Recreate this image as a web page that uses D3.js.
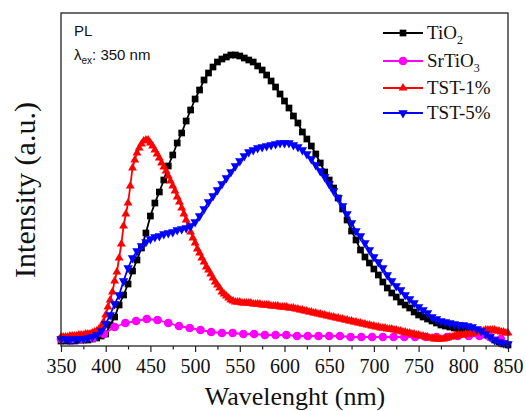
<!DOCTYPE html>
<html>
<head>
<meta charset="utf-8">
<script src="https://cdn.jsdelivr.net/npm/d3@7"></script>
<style>
  body { margin: 0; background: #fff; }
  svg { display: block; }
</style>
</head>
<body>
<div id="app"></div>
<script>
// PL spectra, intensity in arbitrary units

// TiO2 and TST-5% : one point every 5 nm from 350 to 850
var wlTiO2 = d3.range(350, 851, 5);
var tio2 = [
  5, 5, 5, 5, 6, 6, 6, 7, 8, 10,
  12, 21, 29, 41, 51, 62, 75, 86, 98, 113,
  130, 143, 154, 166, 180, 191, 203, 213, 225, 236,
  247, 256, 266, 273, 279, 284, 287, 289, 291, 291,
  290, 288, 286, 284, 280, 276, 271, 265, 259, 252,
  245, 238, 230, 223, 214, 207, 200, 192, 183, 174,
  166, 158, 148, 137, 126, 115, 106, 96, 89, 83,
  77, 71, 64, 58, 53, 49, 44, 41, 38, 34,
  31, 29, 27, 25, 23, 21, 20, 19, 18, 17,
  16, 16, 15, 14, 13, 11, 9, 6, 4, 2,
  1
];
var wlTST5 = d3.range(350, 851, 5);
var tst5 = [
  7, 7, 6, 7, 7, 7, 8, 9, 11, 15,
  22, 31, 42, 51, 65, 78, 88, 95, 100, 104,
  107, 109, 110, 112, 113, 114, 116, 117, 118, 120,
  124, 130, 137, 144, 150, 156, 162, 168, 174, 180,
  185, 190, 194, 196, 198, 199, 200, 201, 202, 203,
  203, 203, 201, 199, 196, 192, 187, 181, 175, 169,
  162, 155, 148, 140, 132, 123, 115, 110, 103, 96,
  89, 84, 78, 71, 65, 60, 56, 51, 47, 43,
  39, 36, 33, 29, 27, 25, 24, 23, 22, 21,
  21, 20, 19, 17, 15, 12, 9, 6, 4, 3,
  2
];

// TST-1% : one point every 2.5 nm
var wlTST1 = d3.range(0, 201).map(function (i) { return 350 + i * 2.5; });
var tst1 = [
  9, 9, 9, 9, 10, 10, 10, 10, 11, 11,
  11, 12, 12, 12, 13, 14, 15, 17, 19, 24,
  31, 39, 46, 54, 65, 74, 88, 102, 120, 132,
  143, 160, 178, 186, 193, 198, 202, 205, 206, 206,
  203, 200, 196, 192, 188, 183, 179, 175, 170, 165,
  160, 155, 149, 144, 138, 132, 126, 120, 114, 108,
  103, 97, 93, 88, 84, 79, 76, 72, 68, 64,
  61, 58, 54, 52, 50, 48, 46, 45, 44, 44,
  44, 43, 43, 43, 43, 43, 42, 42, 42, 42,
  41, 41, 41, 41, 40, 40, 40, 40, 39, 39,
  39, 39, 38, 38, 38, 37, 37, 36, 36, 35,
  35, 34, 34, 33, 33, 32, 32, 31, 31, 30,
  30, 29, 29, 28, 28, 27, 27, 26, 26, 25,
  25, 24, 24, 23, 23, 22, 22, 21, 21, 20,
  20, 19, 19, 18, 18, 18, 17, 17, 17, 16,
  16, 15, 15, 14, 14, 13, 13, 12, 12, 11,
  11, 10, 10, 9, 9, 8, 8, 7, 7, 7,
  7, 7, 8, 8, 9, 9, 10, 10, 11, 11,
  11, 12, 12, 12, 13, 13, 14, 14, 15, 15,
  16, 16, 16, 16, 16, 15, 15, 14, 14, 13,
  13
];

// SrTiO3 : one point every 12 nm
var wlSrTiO3 = d3.range(350, 843, 12);
var srtio3 = [
  7, 7, 7, 8, 12, 19, 23, 25, 27, 26,
  23, 20, 18, 16, 14, 13, 13, 12, 12, 11,
  11, 11, 10, 10, 10, 10, 10, 9, 9, 9,
  9, 9, 9, 9, 9, 9, 9, 10, 10, 10,
  9, 7
];

var xTicks = [350, 400, 450, 500, 550, 600, 650, 700, 750, 800, 850];
var xMinor = [375, 425, 475, 525, 575, 625, 675, 725, 775, 825];

var seriesNames = ['TiO', 'SrTiO', 'TST-1%', 'TST-5%'];
var seriesSubs = ['2', '3', '', ''];
var seriesColors = ['#000000', '#ff00ff', '#ff0000', '#0000ff'];

var serif = '"Liberation Serif", "Times New Roman", serif';

var width = 526,
  height = 411;
var plotLeft = 61, plotRight = 508, plotTop = 13, plotBottom = 346;

var svg = d3.select('#app')
  .append('svg')
  .attr('width', width)
  .attr('height', height);

var xScale = d3.scaleLinear().domain([350, 850]).range([plotLeft, plotRight]);
var yScale = d3.scaleLinear().domain([0, 333]).range([plotBottom, plotTop]);

// axes
var xAxis = d3.axisBottom(xScale).tickValues(xTicks).tickSize(6).tickPadding(7);
var xAxisMinor = d3.axisBottom(xScale).tickValues(xMinor).tickSize(3.5).tickFormat('');

var gx = svg.append('g')
  .attr('transform', 'translate(0,' + plotBottom + ')')
  .call(xAxis)
  .attr('font-family', serif)
  .attr('font-size', 20);
gx.select('.domain').remove();
gx.selectAll('line').attr('stroke', '#222').attr('stroke-width', 1.2);
gx.selectAll('text').attr('fill', '#111');

var gxm = svg.append('g')
  .attr('transform', 'translate(0,' + plotBottom + ')')
  .call(xAxisMinor);
gxm.select('.domain').remove();
gxm.selectAll('line').attr('stroke', '#222').attr('stroke-width', 1.2);

// curves
var line = d3.line()
  .x(function (d) { return xScale(d[0]); })
  .y(function (d) { return yScale(d[1]); });

var symbols = [
  d3.symbol().type(d3.symbolSquare).size(45),
  d3.symbol().type(d3.symbolCircle).size(60),
  d3.symbol().type(d3.symbolTriangle).size(34),
  d3.symbol().type(d3.symbolTriangle).size(38)
];
var rotations = [0, 0, 0, 180];

var allData = [
  d3.zip(wlTiO2, tio2),
  d3.zip(wlSrTiO3, srtio3),
  d3.zip(wlTST1, tst1),
  d3.zip(wlTST5, tst5)
];

var plot = svg.append('g').attr('class', 'plot');

allData.forEach(function (pts, i) {
  var g = plot.append('g');
  g.append('path')
    .datum(pts)
    .attr('d', line)
    .attr('fill', 'none')
    .attr('stroke', seriesColors[i])
    .attr('stroke-width', 1.8);
  g.selectAll('path.mk')
    .data(pts)
    .enter()
    .append('path')
    .attr('class', 'mk')
    .attr('d', symbols[i])
    .attr('fill', seriesColors[i])
    .attr('transform', function (d) {
      return 'translate(' + xScale(d[0]) + ',' + yScale(d[1]) + ') rotate(' + rotations[i] + ')';
    });
});

// frame
svg.append('rect')
  .attr('x', plotLeft)
  .attr('y', plotTop)
  .attr('width', plotRight - plotLeft)
  .attr('height', plotBottom - plotTop)
  .attr('fill', 'none')
  .attr('stroke', '#222')
  .attr('stroke-width', 1.3);

// legend
var legendRows = [33, 61, 88, 113];
var legend = svg.append('g').attr('class', 'legend');
seriesNames.forEach(function (name, i) {
  var y = legendRows[i];
  legend.append('line')
    .attr('x1', 383).attr('x2', 423)
    .attr('y1', y).attr('y2', y)
    .attr('stroke', seriesColors[i])
    .attr('stroke-width', 2);
  legend.append('path')
    .attr('d', symbols[i])
    .attr('fill', seriesColors[i])
    .attr('transform', 'translate(403,' + y + ') rotate(' + rotations[i] + ')');
  var t = legend.append('text')
    .attr('x', 427)
    .attr('y', y + 6)
    .attr('font-family', serif)
    .attr('font-size', 19)
    .attr('fill', '#111');
  t.append('tspan').text(name);
  if (seriesSubs[i]) {
    t.append('tspan')
      .attr('font-size', 12)
      .attr('dy', 5)
      .text(seriesSubs[i]);
  }
});

// annotation
var note = svg.append('g')
  .attr('font-family', '"Liberation Sans", Arial, sans-serif')
  .attr('fill', '#111');
note.append('text')
  .attr('x', 74)
  .attr('y', 36)
  .attr('font-size', 15)
  .text('PL');
var lam = note.append('text')
  .attr('x', 74)
  .attr('y', 60)
  .attr('font-size', 15);
lam.append('tspan').text('\u03bb');
lam.append('tspan').attr('font-size', 10).attr('dy', 4).text('ex');
lam.append('tspan').attr('dy', -4).text(': 350 nm');

// axis titles
svg.append('text')
  .attr('x', 295)
  .attr('y', 405)
  .attr('text-anchor', 'middle')
  .attr('font-family', serif)
  .attr('font-size', 26)
  .attr('fill', '#111')
  .text('Wavelenght (nm)');

svg.append('text')
  .attr('transform', 'translate(35,190) rotate(-90)')
  .attr('text-anchor', 'middle')
  .attr('font-family', serif)
  .attr('font-size', 30)
  .attr('fill', '#111')
  .text('Intensity (a.u.)');
</script>
</body>
</html>
